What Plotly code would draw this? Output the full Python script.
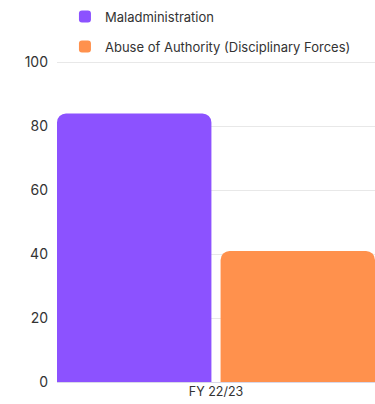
import plotly.graph_objects as go

categories = ["FY 22/23"]
series_names = ["Maladministration", "Abuse of Authority (Disciplinary Forces)"]
maladministration = [84]
abuse_of_authority = [41]
y_ticks = [0, 20, 40, 60, 80, 100]

colors = ["#8C52FF", "#FF914D"]

fig = go.Figure()
for name, vals, col, grp in zip(series_names, [maladministration, abuse_of_authority], colors, ["a", "b"]):
    fig.add_trace(go.Bar(
        x=categories, y=vals, name=name, marker_color=col,
        marker_line_width=0, legendgroup=grp,
    ))

fig.update_layout(
    width=375, height=404,
    margin=dict(l=57, r=0, t=61, b=22),
    paper_bgcolor="white", plot_bgcolor="white",
    font=dict(family="Inter, Open Sans, sans-serif", size=13, color="#333333"),
    barmode="group", bargap=0, bargroupgap=0.056,
    barcornerradius=9,
    showlegend=True,
    legend=dict(
        orientation="v", x=(65 - 57) / 320, xanchor="left",
        y=1.185, yanchor="top", xref="paper", yref="paper",
        font=dict(size=13, color="#333333"),
        tracegroupgap=10, traceorder="grouped",
        bgcolor="rgba(0,0,0,0)",
    ),
    xaxis=dict(
        range=[-0.486, 0.486], showgrid=False, showline=False,
        ticks="", tickfont=dict(size=12.5, color="#333333"),
    ),
    yaxis=dict(
        range=[0, 100.4], tickvals=y_ticks, showgrid=True,
        gridcolor="#E8E8E8", gridwidth=1, zeroline=True,
        zerolinecolor="#D8D8E8", zerolinewidth=1, ticks="",
        ticklabelstandoff=8, tickfont=dict(size=14, color="#333333"),
    ),
)

fig.write_html("out.html")
